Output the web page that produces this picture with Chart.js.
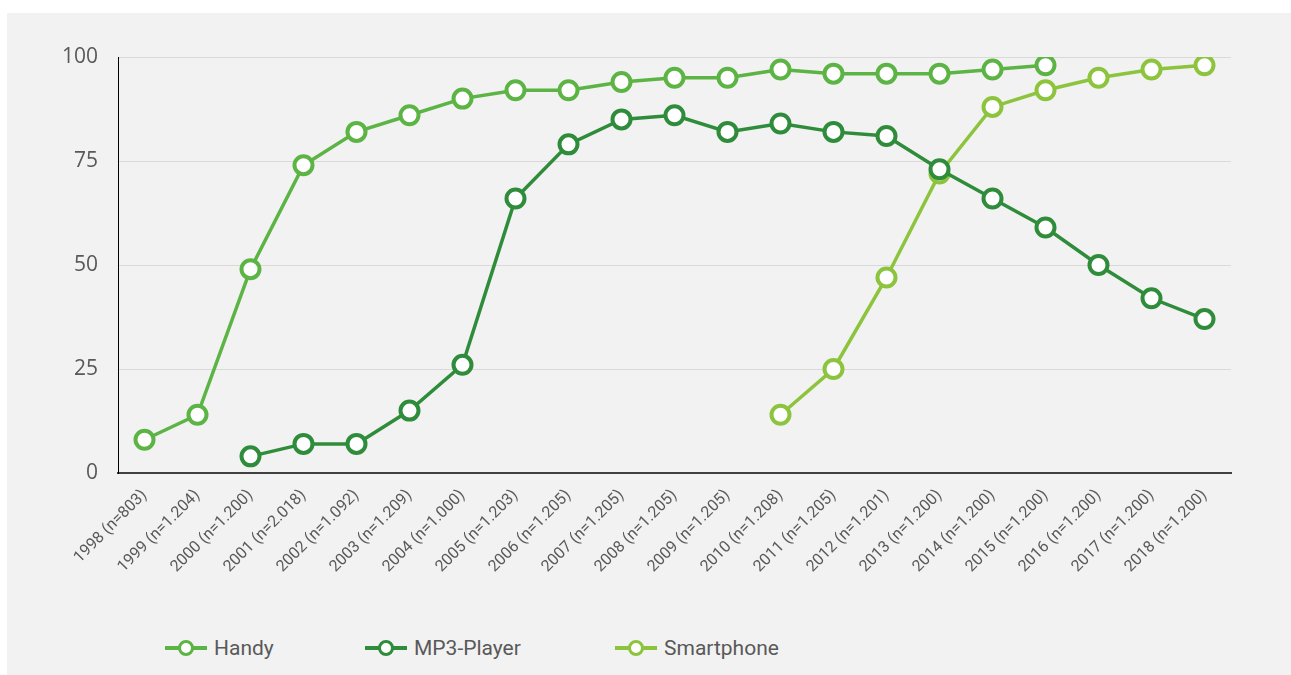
<!DOCTYPE html>
<html>
<head>
<meta charset="utf-8">
<script src="https://cdn.jsdelivr.net/npm/chart.js@4.4.0/dist/chart.umd.min.js"></script>
<style>
  html, body { margin: 0; padding: 0; background: #fff; }
  #panel {
    position: absolute; left: 7px; top: 13px;
    width: 1284px; height: 662px;
    background: #f2f2f2;
  }
  #wrap { position: absolute; left: 0; top: 0; width: 1284px; height: 590px; }
  #legend {
    position: absolute; left: 0; top: 623px; width: 1284px; height: 30px;
    font-family: Roboto, "Open Sans", sans-serif; font-size: 21px; color: #595959;
  }
  .legend-item { position: absolute; top: 0; display: flex; align-items: center; }
  .legend-mark { position: relative; width: 42px; height: 20px; margin-right: 7px; }
  .legend-mark .ln { position: absolute; left: 0; right: 0; top: 8px; height: 4px; }
  .legend-mark .dot {
    position: absolute; left: 13px; top: 2px; width: 10px; height: 10px;
    border-radius: 50%; background: #fff; border: 3px solid;
  }
</style>
</head>
<body>
<div id="panel">
  <div id="wrap"><canvas id="chart"></canvas></div>
  <div id="legend"></div>
</div>
<script>
// Jahre mit Stichprobengröße
const labels = [
  '1998 (n=803)', '1999 (n=1.204)', '2000 (n=1.200)', '2001 (n=2.018)',
  '2002 (n=1.092)', '2003 (n=1.209)', '2004 (n=1.000)', '2005 (n=1.203)',
  '2006 (n=1.205)', '2007 (n=1.205)', '2008 (n=1.205)', '2009 (n=1.205)',
  '2010 (n=1.208)', '2011 (n=1.205)', '2012 (n=1.201)', '2013 (n=1.200)',
  '2014 (n=1.200)', '2015 (n=1.200)', '2016 (n=1.200)', '2017 (n=1.200)',
  '2018 (n=1.200)'
];

const handy = [8, 14, 49, 74, 82, 86, 90, 92, 92, 94, 95, 95, 97, 96, 96, 96, 97, 98, null, null, null];
const mp3Player = [null, null, 4, 7, 7, 15, 26, 66, 79, 85, 86, 82, 84, 82, 81, 73, 66, 59, 50, 42, 37];
const smartphone = [null, null, null, null, null, null, null, null, null, null, null, null, 14, 25, 47, 72, 88, 92, 95, 97, 98];

const yTicks = [0, 25, 50, 75, 100];

const series = [
  { name: 'Handy', values: handy, color: '#5cb445' },
  { name: 'MP3-Player', values: mp3Player, color: '#2e8c3a' },
  { name: 'Smartphone', values: smartphone, color: '#8dc43d' }
];

// linke Kante jedes Legendeneintrags
const legendLeft = [158, 358, 608];

const textColor = '#595959';

function makeDataset(s) {
  return {
    label: s.name,
    data: s.values,
    borderColor: s.color,
    backgroundColor: '#fff',
    borderWidth: 3.5,
    pointRadius: 9,
    pointBorderWidth: 4,
    pointBackgroundColor: '#fff',
    pointBorderColor: s.color,
    pointHoverRadius: 9,
    tension: 0,
    spanGaps: false
  };
}

const ctx = document.getElementById('chart').getContext('2d');
new Chart(ctx, {
  type: 'line',
  data: {
    labels: labels,
    datasets: series.map(makeDataset)
  },
  options: {
    responsive: true,
    maintainAspectRatio: false,
    animation: false,
    layout: { padding: { top: 44, right: 60, left: 0, bottom: 0 } },
    plugins: {
      legend: { display: false },
      tooltip: { enabled: false }
    },
    scales: {
      x: {
        offset: true,
        grid: { display: false, drawTicks: false },
        border: { display: true, color: '#404040', width: 2 },
        ticks: {
          color: textColor,
          font: { family: 'Roboto, sans-serif', size: 16 },
          maxRotation: 45,
          minRotation: 45,
          autoSkip: false,
          padding: 13
        },
        afterFit: function(scale) { scale.height = 130; }
      },
      y: {
        min: 0,
        max: 100,
        afterBuildTicks: function(scale) {
          scale.ticks = yTicks.map(v => ({ value: v }));
        },
        grid: { color: '#d9d9d9', lineWidth: 1, drawTicks: false },
        border: { display: true, color: '#000', width: 1 },
        ticks: {
          color: textColor,
          font: { family: '"Open Sans", sans-serif', size: 21 },
          padding: 20
        },
        afterFit: function(scale) { scale.width = 111; }
      }
    }
  }
});

// Legende unter dem Diagramm
const legend = document.getElementById('legend');
series.forEach((s, i) => {
  legend.innerHTML += `<div class="legend-item" style="left:${legendLeft[i]}px"><div class="legend-mark">` +
    `<div class="ln" style="background:${s.color}"></div>` +
    `<div class="dot" style="border-color:${s.color}"></div></div>${s.name}</div>`;
});
</script>
</body>
</html>
